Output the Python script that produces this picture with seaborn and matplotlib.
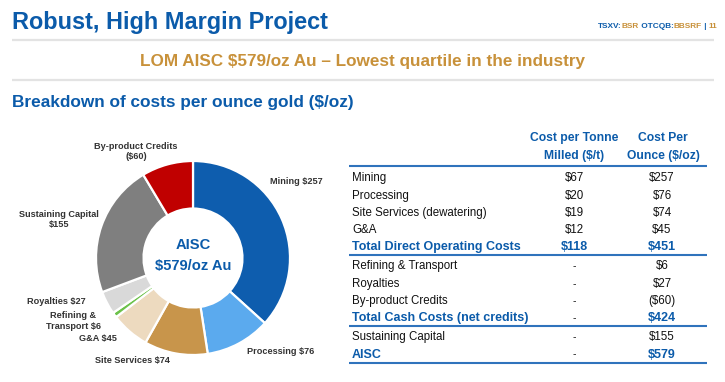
import matplotlib
matplotlib.use("Agg")
import matplotlib.pyplot as plt
import seaborn as sns
import numpy as np
from matplotlib.lines import Line2D

# ---------------- data ----------------
donut_categories = ["Mining", "Processing", "Site Services", "G&A",
                    "Refining & Transport", "Royalties", "Sustaining Capital",
                    "By-product Credits"]
donut_label_names = ["Mining", "Processing", "Site Services", "G&A",
                     "Refining &\nTransport", "Royalties", "Sustaining Capital",
                     "By-product Credits"]
donut_label_breaks = [" ", " ", " ", " ", " ", " ", "\n", "\n"]
donut_values = [257, 76, 74, 45, 6, 27, 155, -60]
donut_colors = ["#0E5DAE", "#5BAAEE", "#C8954B", "#EDDABF", "#6CC24A",
                "#D9D9D9", "#7F7F7F", "#C00000"]
aisc_value = 579

table_rows = ["Mining", "Processing", "Site Services (dewatering)", "G&A",
              "Total Direct Operating Costs", "Refining & Transport", "Royalties",
              "By-product Credits", "Total Cash Costs (net credits)",
              "Sustaining Capital", "AISC"]
cost_per_tonne = [67, 20, 19, 12, 118, None, None, None, None, None, None]
cost_per_ounce = [257, 76, 74, 45, 451, 6, 27, -60, 424, 155, 579]
row_is_total = [False, False, False, False, True, False, False, False, True, False, True]
col_headers = ["Cost per Tonne\nMilled ($/t)", "Cost Per\nOunce ($/oz)"]

title = "Robust, High Margin Project"
subtitle = "LOM AISC $579/oz Au \u2013 Lowest quartile in the industry"
heading = "Breakdown of costs per ounce gold ($/oz)"
ticker_parts = [("TSXV:", 0), ("BSR", 1), (" OTCQB:", 0), ("BBSRF", 1), (" | ", 0), ("11", 1)]

# ---------------- style ----------------
sns.set_theme(style="white")
plt.rcParams["font.family"] = ["Liberation Sans", "DejaVu Sans"]

BLUE = "#0B5BAA"
GOLD = "#C8913A"
LINE_BLUE = "#2F73BC"
TXT = "#111111"
LBL = "#333333"


def money(v):
    if v is None:
        return "-"
    return f"(${-v})" if v < 0 else f"${v}"


W, H = 725, 382
fig = plt.figure(figsize=(W / 100, H / 100), dpi=100)
fig.patch.set_facecolor("white")


def fx(x):
    return x / W


def fy(y):
    return 1 - y / H


def hline(x0, x1, y, color, lw):
    fig.add_artist(Line2D([fx(x0), fx(x1)], [fy(y), fy(y)], transform=fig.transFigure,
                          color=color, lw=lw, solid_capstyle="butt"))


# ---------------- header ----------------
fig.text(fx(12.5), fy(29.5), title, color=BLUE, fontsize=16.9, fontweight="bold",
         ha="left", va="baseline")
hline(12, 714, 39.5, "#E3E3E3", 1.6)
fig.text(fx(362.5), fy(65.7), subtitle, color=GOLD, fontsize=12.3, fontweight="bold",
         ha="center", va="baseline")
hline(12, 714, 79.5, "#E3E3E3", 1.6)
fig.text(fx(12.5), fy(107.3), heading, color=BLUE, fontsize=12.4, fontweight="bold",
         ha="left", va="baseline")

renderer = fig.canvas.get_renderer()
x = 598.0
for txt, c in ticker_parts:
    t = fig.text(fx(x), fy(27.5), txt, color=[BLUE, GOLD][c], fontsize=5.95,
                 fontweight="bold", ha="left", va="baseline")
    x += t.get_window_extent(renderer).width

# ---------------- donut ----------------
cx, cy, R = 193, 258, 97
ax = fig.add_axes([fx(cx - R), fy(cy + R), 2 * R / W, 2 * R / H])
palette = sns.color_palette(donut_colors)
wedges, _ = ax.pie(np.abs(donut_values), colors=palette, startangle=90, counterclock=False,
                   radius=1.0, wedgeprops=dict(width=0.49, edgecolor="white", linewidth=1.6))
for w in wedges:
    w.set_clip_on(False)
ax.set_xlim(-1, 1)
ax.set_ylim(-1, 1)
ax.set_axis_off()

fig.text(fx(cx), fy(245), "AISC", color=BLUE, fontsize=10.6, fontweight="bold",
         ha="center", va="center")
fig.text(fx(cx), fy(266), f"${aisc_value}/oz Au", color=BLUE, fontsize=10.6,
         fontweight="bold", ha="center", va="center")

# label placements (pixel x, pixel y, ha)
label_pos = [(270, 182, "left"), (247, 351, "left"), (132, 361, "center"),
             (117, 339, "right"), (73, 321, "center"), (86, 302, "right"),
             (59, 219.5, "center"), (136, 151.5, "center")]
for name, brk, v, (lx, ly, ha) in zip(donut_label_names, donut_label_breaks,
                                      donut_values, label_pos):
    fig.text(fx(lx), fy(ly), f"{name}{brk}{money(v)}", color=LBL, fontsize=6.6,
             fontweight="bold", ha=ha, va="center", multialignment="center",
             linespacing=1.25)

# ---------------- table ----------------
col_x = [574, 663]
lab_x = 352
for cxh, hdr in zip(col_x, col_headers):
    l1, l2 = hdr.split("\n")
    fig.text(fx(cxh), fy(141), l1, color=BLUE, fontsize=8.7, fontweight="bold",
             ha="center", va="baseline")
    fig.text(fx(cxh), fy(158.5), l2, color=BLUE, fontsize=8.7, fontweight="bold",
             ha="center", va="baseline")
hline(349, 707, 166, LINE_BLUE, 1.5)

y = 177.0
for name, ct, co, tot in zip(table_rows, cost_per_tonne, cost_per_ounce, row_is_total):
    if tot:
        kw = dict(color=BLUE, fontsize=9.0, fontweight="bold")
    else:
        kw = dict(color=TXT, fontsize=8.3)
    base = y + 4.2
    fig.text(fx(lab_x), fy(base), name, ha="left", va="baseline", **kw)
    ct_kw = dict(kw) if ct is not None else dict(color=TXT, fontsize=7.5)
    fig.text(fx(col_x[0]), fy(base), money(ct), ha="center", va="baseline", **ct_kw)
    fig.text(fx(col_x[1] - 1), fy(base), money(co), ha="center", va="baseline", **kw)
    if tot:
        hline(349, 707, y + 9.2, LINE_BLUE, 1.5)
        y += 19.0
    else:
        y += 17.3

fig.savefig("out.png", dpi=100, facecolor="white")
